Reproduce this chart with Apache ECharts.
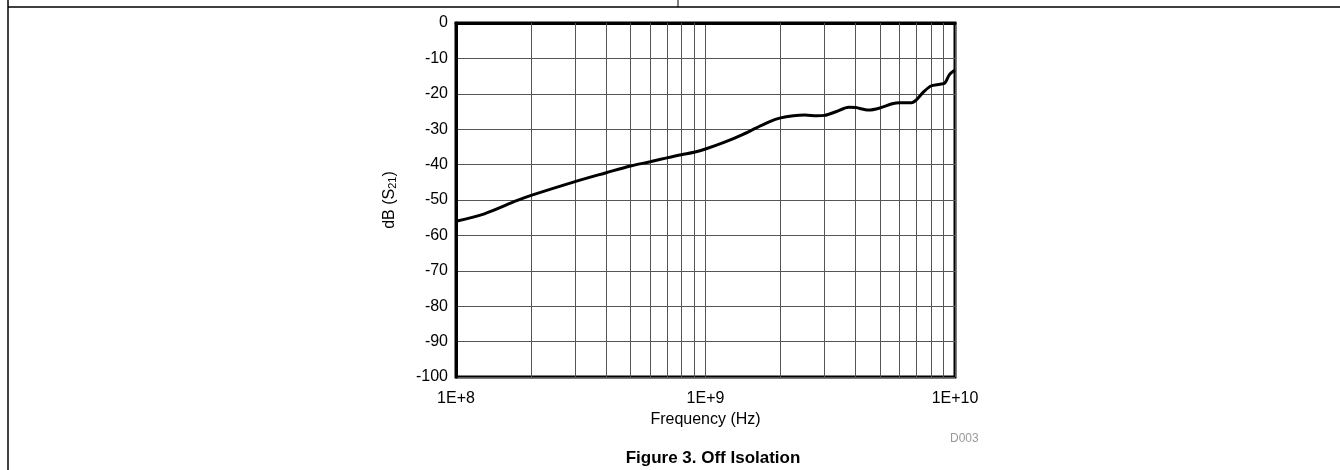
<!DOCTYPE html>
<html>
<head>
<meta charset="utf-8">
<script src="https://cdn.jsdelivr.net/npm/echarts@6/dist/echarts.min.js"></script>
<style>
html,body{margin:0;padding:0;background:#fff;}
#chart{width:1340px;height:470px;}
</style>
</head>
<body>
<div id="chart"></div>
<script>
// Data (frequency in Hz, S21 in dB)
const frequencies = [1e8, 1.3e8, 1.75e8, 2e8, 3e8, 4e8, 5e8, 6e8, 7e8, 8e8, 9e8, 1e9,
  1.2e9, 1.4e9, 1.6e9, 1.8e9, 2e9, 2.25e9, 2.5e9, 2.8e9, 3e9, 3.35e9, 3.75e9, 4e9,
  4.5e9, 5e9, 5.6e9, 6e9, 6.7e9, 7e9, 7.5e9, 8e9, 8.7e9, 9.1e9, 9.5e9, 1e10];
const isolationDb = [-56, -53.9, -50.2, -48.7, -44.8, -42.3, -40.4, -39.2, -38.1, -37.2, -36.5, -35.6,
  -33.6, -31.6, -29.6, -27.9, -26.8, -26.2, -26, -26.2, -26.1, -25, -23.8, -23.9,
  -24.6, -24, -22.8, -22.5, -22.5, -21.7, -19.4, -17.8, -17.3, -17, -14.6, -13.3];
const minorFreqs = [2e8, 3e8, 4e8, 5e8, 6e8, 7e8, 8e8, 9e8, 2e9, 3e9, 4e9, 5e9, 6e9, 7e9, 8e9, 9e9];
const xTickLabels = {8: '1E+8', 9: '1E+9', 10: '1E+10'};
const yMin = -100, yMax = 0, yStep = 10;

const chart = echarts.init(document.getElementById('chart'), null, {renderer: 'canvas'});
const FONT = '"Liberation Sans", Arial, sans-serif';
chart.setOption({
  animation: false,
  backgroundColor: '#fff',
  title: {
    text: 'Figure 3. Off Isolation',
    left: 708, top: 445,
    textAlign: 'center',
    textStyle: {fontFamily: FONT, fontWeight: 'bold', fontSize: 17, color: '#000'}
  },
  grid: {left: 456, right: 385, top: 23, bottom: 93, show: true, borderColor: '#000', borderWidth: 3, backgroundColor: 'transparent'},
  xAxis: {
    type: 'log', logBase: 10, min: 1e8, max: 1e10, interval: 1,
    name: 'Frequency (Hz)', nameLocation: 'middle', nameGap: 32,
    nameTextStyle: {fontFamily: FONT, fontSize: 16, color: '#000'},
    axisLine: {show: true, lineStyle: {color: '#000', width: 3}},
    axisTick: {show: false},
    axisLabel: {
      fontFamily: FONT, fontSize: 16, color: '#000', margin: 14,
      formatter: function (v) { const e = Math.round(Math.log10(v)); return xTickLabels[e] || ''; }
    },
    splitLine: {show: true, lineStyle: {color: '#555', width: 1}}
  },
  yAxis: {
    type: 'value', min: yMin, max: yMax, interval: yStep,
    name: 'dB (S{sub|21})', nameLocation: 'middle', nameGap: 58,
    nameTextStyle: {fontFamily: FONT, fontSize: 16, color: '#000',
      rich: {sub: {fontFamily: FONT, fontSize: 11, color: '#000', verticalAlign: 'bottom', padding: [6, 0, 0, 0]}}},
    axisLine: {show: true, lineStyle: {color: '#000', width: 3}},
    axisTick: {show: false},
    axisLabel: {fontFamily: FONT, fontSize: 16, color: '#000', margin: 8},
    splitLine: {show: true, lineStyle: {color: '#555', width: 1}}
  },
  graphic: [
    {type: 'line', shape: {x1: 8, y1: 7, x2: 1340, y2: 7}, style: {stroke: '#000', lineWidth: 1.5}},
    {type: 'line', shape: {x1: 8, y1: 0, x2: 8, y2: 470}, style: {stroke: '#000', lineWidth: 1.5}},
    {type: 'line', shape: {x1: 678, y1: 0, x2: 678, y2: 7}, style: {stroke: '#000', lineWidth: 1}},
    {type: 'text', left: 950, top: 433, style: {text: 'D003', fill: '#999', font: '12px ' + FONT}}
  ],
  series: [{
    type: 'line',
    data: frequencies.map((f, i) => [f, isolationDb[i]]),
    smooth: 0.3,
    showSymbol: false,
    lineStyle: {color: '#000', width: 3},
    z: 5,
    markLine: {
      silent: true, symbol: 'none', label: {show: false},
      lineStyle: {color: '#555', width: 1, type: 'solid'},
      data: minorFreqs.map(f => ({xAxis: f})),
      z: 1
    }
  }]
});
</script>
</body>
</html>
